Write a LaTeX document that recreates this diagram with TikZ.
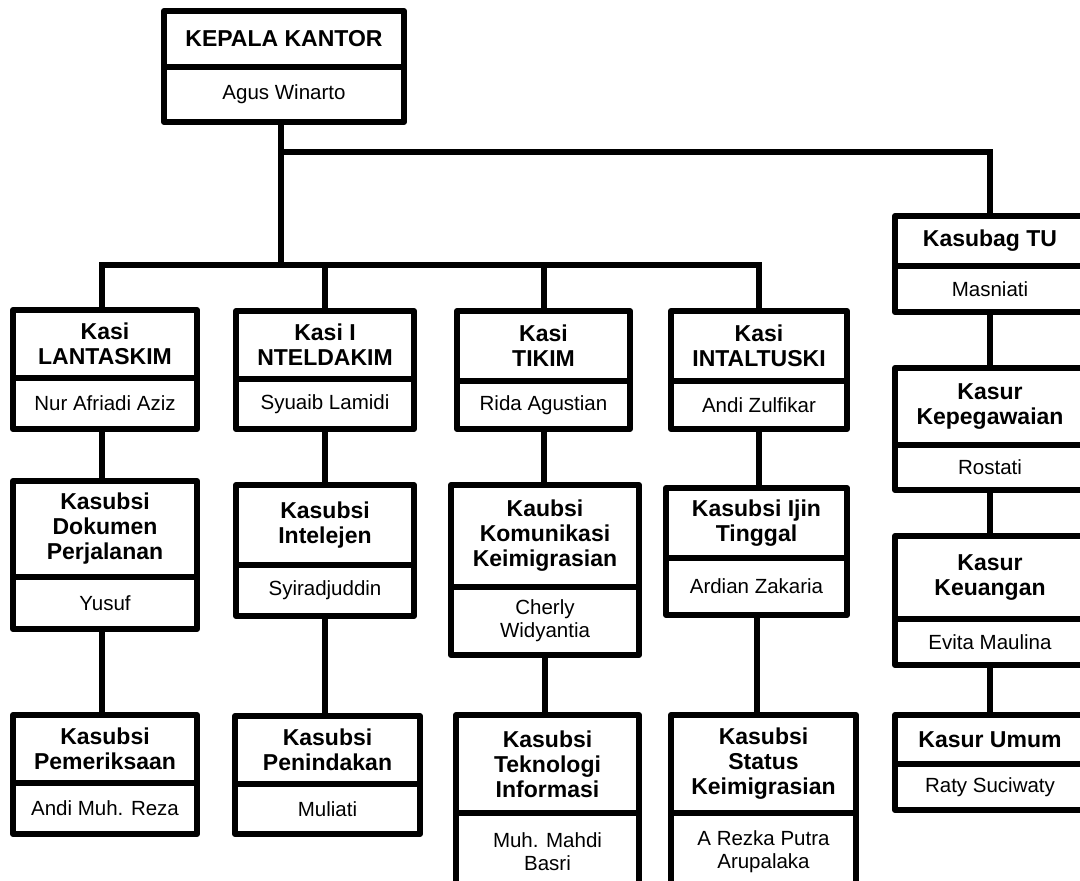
\documentclass[tikz,border=0pt]{standalone}
\usepackage{fontspec}
\setmainfont{Liberation Sans}
\tikzset{
  tbox/.style={draw, line width=6pt, line join=round, inner sep=0pt, outer sep=0pt, align=center,
    font=\fontsize{23}{25}\selectfont\bfseries},
  nbox/.style={draw, line width=6pt, line join=round, inner sep=0pt, outer sep=0pt, align=center,
    font=\fontsize{20.5}{23}\selectfont},
  conn/.style={draw, line width=6pt, line join=miter}
}
\newcommand{\obox}[8]{%
  \node[tbox, minimum width={#3-#2-6}, minimum height={#5-#4-3}] (#1t) at ({(#2+#3)/2},{(#4+3+#5)/2}) {#7};
  \node[nbox, minimum width={#3-#2-6}, minimum height={#6-3-#5}] (#1n) at ({(#2+#3)/2},{(#5+#6-3)/2}) {#8};}
\begin{document}
\begin{tikzpicture}[x=1pt,y=-1pt]
\useasboundingbox (0,0) rectangle (1080,881);
\fill[white] (0,0) rectangle (1080,881);
\clip (0,0) rectangle (1080,881);

\obox{k0}{161}{407}{8}{67}{125}{KEPALA KANTOR}{Agus Winarto}

\obox{c1}{10}{200}{307}{378}{432}{Kasi\\LANTASKIM}{Nur Afriadi Aziz}
\obox{d1}{10}{200}{478}{577}{632}{Kasubsi\\Dokumen\\Perjalanan}{Yusuf}
\obox{e1}{10}{200}{712}{783}{837}{Kasubsi\\Pemeriksaan}{Andi Muh. Reza}

\obox{c2}{233}{417}{308}{379}{432}{Kasi I\\NTELDAKIM}{Syuaib Lamidi}
\obox{d2}{233}{417}{482}{565}{619}{Kasubsi\\Intelejen}{Syiradjuddin}
\obox{e2}{232}{423}{713}{784}{837}{Kasubsi\\Penindakan}{Muliati}

\obox{c3}{454}{633}{308}{381}{432}{Kasi\\TIKIM}{Rida Agustian}
\obox{d3}{448}{642}{482}{587}{658}{Kaubsi\\Komunikasi\\Keimigrasian}{Cherly\\Widyantia}
\obox{e3}{453}{642}{712}{813}{893}{Kasubsi\\Teknologi\\Informasi}{Muh. Mahdi\\Basri}

\obox{c4}{668}{850}{308}{381}{432}{Kasi\\INTALTUSKI}{Andi Zulfikar}
\obox{d4}{663}{850}{485}{558}{618}{Kasubsi Ijin\\Tinggal}{Ardian Zakaria}
\obox{e4}{668}{859}{712}{813}{893}{Kasubsi\\Status\\Keimigrasian}{A Rezka Putra\\Arupalaka}

\obox{f1}{892}{1088}{213}{266}{315}{Kasubag TU}{Masniati}
\obox{f2}{892}{1088}{365}{445}{493}{Kasur\\Kepegawaian}{Rostati}
\obox{f3}{892}{1088}{533}{619}{668}{Kasur\\Keuangan}{Evita Maulina}
\obox{f4}{892}{1088}{712}{764}{813}{Kasur Umum}{Raty Suciwaty}

\coordinate (j1) at (281,152);
\coordinate (j2) at (281,265);

\draw[conn] ([xshift=-3pt]k0n.south) -- (j2);
\draw[conn] (j1) -| (f1t.north);
\draw[conn] ([xshift=-3pt]c1t.north) |- (j2) -| (c4t.north);
\draw[conn] (j2 -| c2t.north) -- (c2t.north);
\draw[conn] (j2 -| c3t.north) -- (c3t.north);

\draw[conn] ([xshift=-3pt]c1n.south) -- ([xshift=-3pt]d1t.north);
\draw[conn] ([xshift=-3pt]d1n.south) -- ([xshift=-3pt]e1t.north);
\draw[conn] (c2n.south) -- (c2n.south |- d2t.north);
\draw[conn] (d2n.south) -- (d2n.south |- e2t.north);
\draw[conn] (c3n.south) -- (c3n.south |- d3t.north);
\draw[conn] (d3n.south) -- (d3n.south |- e3t.north);
\draw[conn] (c4n.south) -- (c4n.south |- d4t.north);
\draw[conn] (d4n.south) -- (d4n.south |- e4t.north);
\draw[conn] (f1n.south) -- (f2t.north);
\draw[conn] (f2n.south) -- (f3t.north);
\draw[conn] (f3n.south) -- (f4t.north);
\end{tikzpicture}
\end{document}
